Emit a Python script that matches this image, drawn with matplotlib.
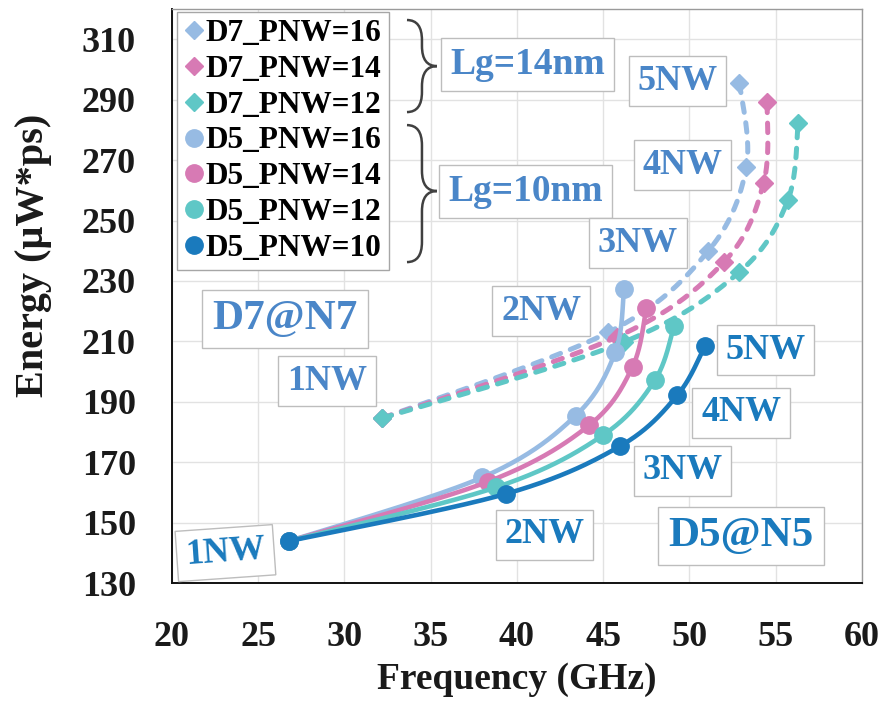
import numpy as np
import matplotlib
matplotlib.use("Agg")
import matplotlib.pyplot as plt
from matplotlib.lines import Line2D
from matplotlib.path import Path
from matplotlib.patches import PathPatch

plt.rcParams['font.family'] = ['Liberation Serif', 'DejaVu Serif']
plt.rcParams['font.weight'] = 'bold'

# frequency (GHz) / energy (uW*ps) for 1NW..5NW
d7_16_f = [32.2, 45.3, 51.1, 53.3, 52.9]
d7_16_e = [184.6, 213.0, 240.0, 267.8, 295.6]
d7_14_f = [32.2, 45.8, 52.0, 54.3, 54.5]
d7_14_e = [184.6, 211.5, 236.3, 262.5, 289.3]
d7_12_f = [32.2, 46.2, 52.9, 55.7, 56.3]
d7_12_e = [184.6, 209.8, 233.0, 256.7, 282.3]

d5_16_f = [26.8, 38.0, 43.4, 45.7, 46.2]
d5_16_e = [143.9, 165.0, 185.4, 206.5, 227.2]
d5_14_f = [26.8, 38.3, 44.2, 46.7, 47.5]
d5_14_e = [143.9, 163.5, 182.3, 201.6, 221.2]
d5_12_f = [26.8, 38.8, 45.0, 48.0, 49.1]
d5_12_e = [143.9, 161.7, 179.0, 197.2, 215.0]
d5_10_f = [26.8, 39.35, 46.0, 49.3, 50.9]
d5_10_e = [143.9, 159.5, 175.4, 192.2, 208.5]

c_lblue = '#97bbe3'
c_pink = '#d77ab4'
c_teal = '#5fc7c6'
c_dblue = '#1a7abd'
c_txt7 = '#4a86c8'
c_txt5 = '#1a7abd'

# (label, freq, energy, colour, dashed)
series = [
    ('D7_PNW=16', d7_16_f, d7_16_e, c_lblue, True),
    ('D7_PNW=14', d7_14_f, d7_14_e, c_pink, True),
    ('D7_PNW=12', d7_12_f, d7_12_e, c_teal, True),
    ('D5_PNW=16', d5_16_f, d5_16_e, c_lblue, False),
    ('D5_PNW=14', d5_14_f, d5_14_e, c_pink, False),
    ('D5_PNW=12', d5_12_f, d5_12_e, c_teal, False),
    ('D5_PNW=10', d5_10_f, d5_10_e, c_dblue, False),
]

# (text, x, y, colour, fontsize, rotation)
notes = [
    ('Lg=14nm', 40.6, 301.7, c_txt7, 27, 0),
    ('Lg=10nm', 40.5, 259.7, c_txt7, 27, 0),
    ('5NW', 49.3, 296.1, c_txt7, 26, 0),
    ('4NW', 49.6, 268.3, c_txt7, 26, 0),
    ('3NW', 47.0, 242.5, c_txt7, 26, 0),
    ('2NW', 41.4, 220.0, c_txt7, 26, 0),
    ('1NW', 29.0, 196.8, c_txt7, 26, 0),
    ('D7@N7', 26.55, 217.4, c_txt7, 31, 0),
    ('5NW', 54.4, 207.1, c_txt5, 26, 0),
    ('4NW', 53.0, 186.3, c_txt5, 26, 0),
    ('3NW', 49.6, 167.1, c_txt5, 26, 0),
    ('2NW', 41.6, 145.9, c_txt5, 26, 0),
    ('D5@N5', 53.0, 145.6, c_txt5, 31, 0),
    ('1NW', 23.1, 139.9, c_txt5, 26, 4),
]


def smooth(xs, ys, n=40, sx=17.25, sy=3.02):
    # Catmull-Rom style bezier through the points, done in screen-like units
    p = np.column_stack([np.asarray(xs) * sx, np.asarray(ys) * sy])
    p = np.vstack([p[0], p, p[-1]])
    t = np.linspace(0, 1, n)[:, None]
    segs = []
    for i in range(1, len(p) - 2):
        p0, p1, p2, p3 = p[i - 1:i + 3]
        c1 = p1 + (p2 - p0) / 6
        c2 = p2 - (p3 - p1) / 6
        segs.append((1 - t) ** 3 * p1 + 3 * (1 - t) ** 2 * t * c1
                    + 3 * (1 - t) * t ** 2 * c2 + t ** 3 * p2)
    out = np.vstack(segs)
    return out[:, 0] / sx, out[:, 1] / sy


def brace(ax, x0, x1, ytop, ytip, ybot, r=0.035):
    xm = (x0 + x1) / 2
    verts = [(x0, ytop), (xm, ytop), (xm, ytop - r), (xm, ytip + r),
             (xm, ytip), (x1, ytip),
             (x1, ytip), (xm, ytip), (xm, ytip - r), (xm, ybot + r),
             (xm, ybot), (x0, ybot)]
    codes = [Path.MOVETO, Path.CURVE3, Path.CURVE3, Path.LINETO,
             Path.CURVE3, Path.CURVE3,
             Path.MOVETO, Path.CURVE3, Path.CURVE3, Path.LINETO,
             Path.CURVE3, Path.CURVE3]
    ax.add_patch(PathPatch(Path(verts, codes), fc='none', ec='#404040',
                           lw=1.8, transform=ax.transAxes, clip_on=False,
                           zorder=6))


fig = plt.figure(figsize=(8.81, 7.02), dpi=100)
ax = fig.add_axes([0.1952, 0.1695, 0.7832, 0.8175])

handles = []
for name, fx, ey, col, dashed in series:
    sxs, sys_ = smooth(fx, ey)
    if dashed:
        ax.plot(sxs, sys_, color=col, lw=3.6, ls=(0, (1.9, 2.1)),
                dash_capstyle='round', zorder=3)
        ax.plot(fx, ey, ls='none', marker='D', ms=9.5, color=col, zorder=3)
        handles.append(Line2D([], [], ls='none', marker='D', ms=9.5, color=col))
    else:
        ax.plot(sxs, sys_, color=col, lw=3.3, solid_capstyle='round', zorder=4)
        ax.plot(fx, ey, ls='none', marker='o', ms=12.5, color=col, zorder=4)
        handles.append(Line2D([], [], ls='none', marker='o', ms=12.5, color=col))

for txt, x, y, col, fs, rot in notes:
    ax.text(x, y, txt, color=col, fontsize=fs, fontweight='bold', ha='center',
            va='center', rotation=rot, zorder=7,
            bbox=dict(boxstyle='square,pad=0.24', fc='white', ec='#bdbdbd', lw=1.0))

brace(ax, 0.3406, 0.384, 0.981, 0.9007, 0.8206)
brace(ax, 0.3406, 0.384, 0.7979, 0.683, 0.5592)

leg = ax.legend(handles, [s[0] for s in series], loc='upper left',
                bbox_to_anchor=(177 / 881, 1 - 12 / 702),
                bbox_transform=fig.transFigure, borderaxespad=0,
                prop={'size': 22.5, 'weight': 'bold'}, handlelength=0.65,
                handletextpad=0.05, borderpad=0.22, labelspacing=0.22,
                fancybox=False, framealpha=1, edgecolor='#a6a6a6')
leg.get_frame().set_linewidth(1.0)
leg.set_zorder(8)

ax.set_xlim(20, 60)
ax.set_ylim(130, 320)
ax.set_xticks(np.arange(20, 61, 5))
ax.set_yticks(np.arange(130, 311, 20))
ax.grid(True, color='#e2e2e2', lw=1.0, zorder=0)
ax.set_axisbelow(True)
ax.tick_params(length=0)
ax.tick_params(axis='x', labelsize=26, pad=27)
ax.tick_params(axis='y', labelsize=26, pad=26)
for lab in ax.get_xticklabels() + ax.get_yticklabels():
    lab.set_fontweight('bold')
    lab.set_color('#1a1a1a')

for side in ('left', 'bottom'):
    ax.spines[side].set_color('#111111')
    ax.spines[side].set_linewidth(1.4)
for side in ('top', 'right'):
    ax.spines[side].set_color('#9a9a9a')
    ax.spines[side].set_linewidth(1.0)

ax.set_xlabel('Frequency (GHz)', fontsize=27, fontweight='bold', color='#1a1a1a')
ax.set_ylabel('Energy (\u03bcW*ps)', fontsize=29, fontweight='bold', color='#1a1a1a')
ax.xaxis.set_label_coords(0.5, -0.169)
ax.xaxis.label.set_va('center')
ax.yaxis.set_label_coords(-0.2014, 0.571)
ax.yaxis.label.set_va('center')

fig.savefig('out.png', dpi=100)
